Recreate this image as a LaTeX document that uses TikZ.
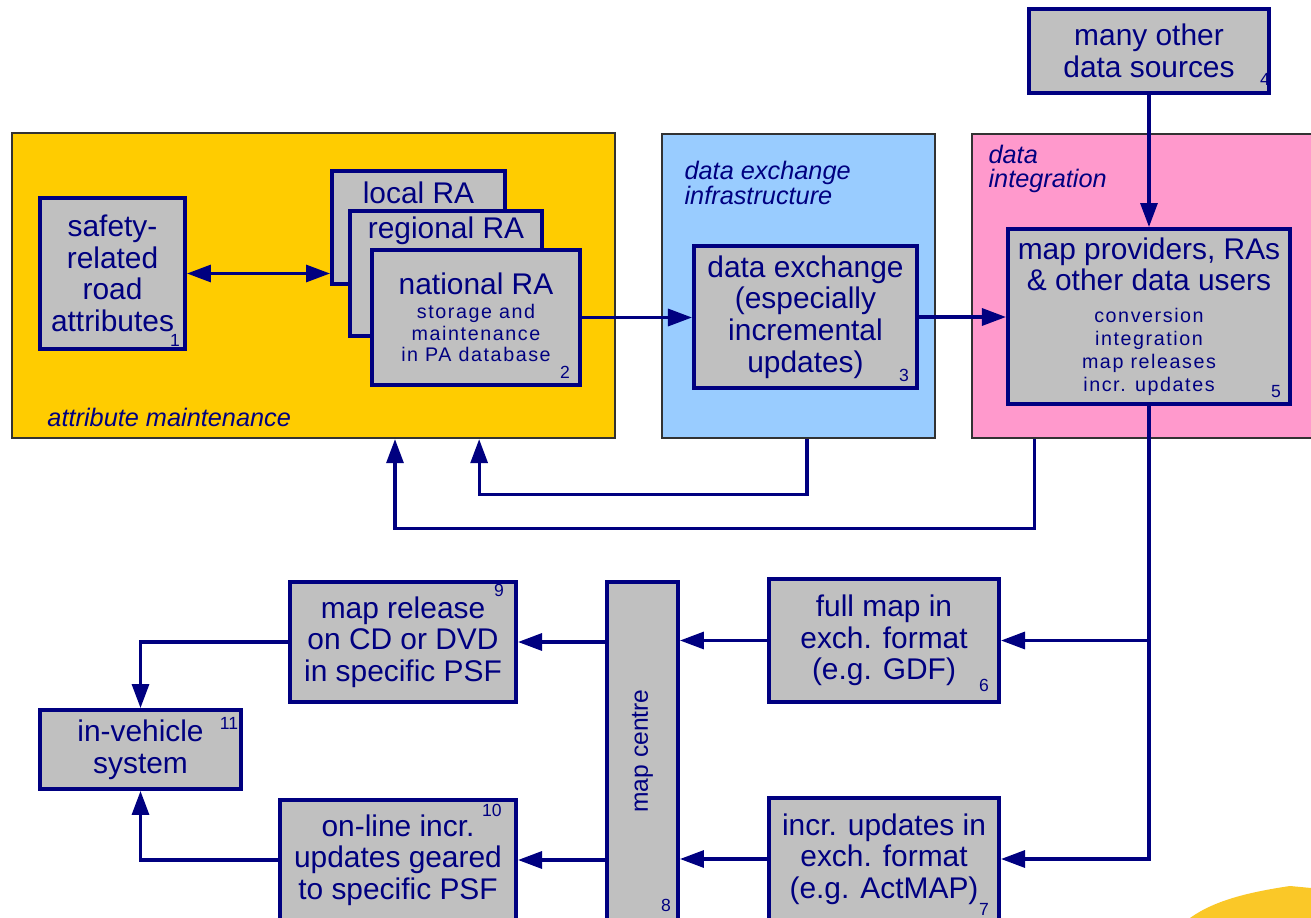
\documentclass[tikz,border=0pt]{standalone}
\usepackage{fontspec}
\setmainfont{Liberation Sans}
\newfontfamily\spacedfont[LetterSpace=8]{Liberation Sans}
\usetikzlibrary{arrows.meta,positioning}
\definecolor{navyline}{RGB}{0,0,128}
\definecolor{boxgrey}{RGB}{192,192,192}
\definecolor{attryellow}{RGB}{255,204,0}
\definecolor{exchblue}{RGB}{153,204,255}
\definecolor{integpink}{RGB}{255,153,204}
\definecolor{panelrim}{RGB}{50,50,50}
\definecolor{blobyellow}{RGB}{250,200,40}
\newcommand{\finetext}[1]{{\spacedfont\fontsize{5.6}{6.3}\selectfont #1}}

\begin{document}
\begin{tikzpicture}[x=0.01cm, y=-0.01cm,
    every node/.style={font=\fontsize{8.5}{9}\selectfont, text=navyline},
    panel/.style={draw=panelrim, line width=0.6pt, inner sep=0pt},
    box/.style={draw=navyline, fill=boxgrey, line width=1.1pt, align=center, inner sep=0pt},
    tag/.style={font=\fontsize{7.2}{7}\selectfont\itshape, align=left, anchor=west, inner sep=0pt},
    num/.style={font=\fontsize{5}{5}\selectfont, inner sep=0pt},
    link/.style={draw=navyline, line width=0.9pt, -{Triangle[length=0.24cm, width=0.17cm]}},
    twoway/.style={link, {Triangle[length=0.24cm, width=0.17cm]}-{Triangle[length=0.24cm, width=0.17cm]}}]
  \fill[white] (0,0) rectangle (1311,918);
  \useasboundingbox (0,0) rectangle (1311,918);

  % the three coloured areas
  \node[panel, fill=attryellow, minimum width=6.03cm, minimum height=3.05cm] (pAttr) at (313.5,285.5) {};
  \node[panel, fill=exchblue, minimum width=2.73cm, minimum height=3.04cm] (pExch) at (798.5,286) {};
  \node[panel, fill=integpink, minimum width=3.58cm, minimum height=3.04cm] (pInteg) at (1151,286) {};
  \node[tag] (tAttr) at ([xshift=0.36cm, yshift=0.22cm]pAttr.south west) {attribute maintenance};
  \node[tag] (tExch) at ([xshift=0.23cm, yshift=-0.5cm]pExch.north west) {data exchange\\infrastructure};
  \node[tag] (tInteg) at ([xshift=0.17cm, yshift=-0.36cm]pInteg.north west) {data\\integration};

  % feedback to attribute maintenance
  \draw[link] ([xshift=0.085cm]pExch.south) -- ++(0,55) -| ([xshift=-1.37cm]pAttr.south east);
  \draw[link] ([xshift=0.64cm]pInteg.south west) -- ++(0,89) -| ([xshift=3.84cm]pAttr.south west);

  % upper row
  \node[box, minimum width=1.45cm, minimum height=1.51cm] (b1) at (112.5,273.5) {safety-\\related\\road\\attributes};
  \node[box, minimum width=1.73cm, minimum height=1.13cm] (bLocal) at (418.5,227.5) {};
  \node (tLocal) at ([yshift=-0.24cm]bLocal.north) {local RA};
  \node[box, minimum width=1.92cm, minimum height=1.25cm] (bRegional) at (446,273.5) {};
  \node (tRegional) at ([yshift=-0.22cm]bRegional.north) {regional RA};
  \node[box, minimum width=2.08cm, minimum height=1.35cm] (bNational) at (476,317.5)
    {national RA\\[-2.2pt] \finetext{storage and}\\[-2.8pt] \finetext{maintenance}\\[-2.8pt] \finetext{in PA database}};
  \node[box, minimum width=2.23cm, minimum height=1.42cm] (b3) at (805.5,317) {data exchange\\(especially\\incremental\\updates)};
  \node[box, minimum width=2.40cm, minimum height=0.84cm] (b4) at (1149,51) {many other\\data sources};
  \node[box, minimum width=2.82cm, minimum height=1.75cm] (b5) at (1149,316.5)
    {map providers, RAs\\\& other data users\\ \finetext{conversion}\\[-2.5pt] \finetext{integration}\\[-2.5pt] \finetext{map releases}\\[-2.5pt] \finetext{incr. updates}};

  % lower part
  \node[box, minimum width=2.30cm, minimum height=1.23cm] (b6) at (884,640.5) {full map in\\exch. format\\(e.g. GDF)};
  \node[box, minimum width=2.30cm, minimum height=1.22cm] (b7) at (884,859) {incr. updates in\\exch. format\\(e.g. ActMAP)};
  \node[box, minimum width=0.71cm, minimum height=3.38cm] (bMap) at (642.5,751) {};
  \node[rotate=90, font=\fontsize{7}{7}\selectfont] (tMap) at (bMap) {map centre};
  \node[box, minimum width=2.26cm, minimum height=1.20cm] (b9) at (403,642) {map release\\on CD or DVD\\in specific PSF};
  \node[box, minimum width=2.36cm, minimum height=1.20cm] (b10) at (398,860) {on-line incr.\\updates geared\\to specific PSF};
  \node[box, minimum width=2.01cm, minimum height=0.79cm] (b11) at (140.5,749.5) {in-vehicle\\system};

  % box numbers
  \node[num] (n1) at ([xshift=-0.12cm, yshift=0.11cm]b1.south east) {1};
  \node[num] (n2) at ([xshift=-0.17cm, yshift=0.15cm]bNational.south east) {2};
  \node[num] (n3) at ([xshift=-0.15cm, yshift=0.15cm]b3.south east) {3};
  \node[num] (n4) at ([xshift=-0.06cm, yshift=0.15cm]b4.south east) {4};
  \node[num] (n5) at ([xshift=-0.16cm, yshift=0.14cm]b5.south east) {5};
  \node[num] (n6) at ([xshift=-0.17cm, yshift=0.19cm]b6.south east) {6};
  \node[num] (n7) at ([xshift=-0.17cm, yshift=0.13cm]b7.south east) {7};
  \node[num] (n8) at ([xshift=-0.14cm, yshift=0.17cm]bMap.south east) {8};
  \node[num] (n9) at ([xshift=-0.19cm, yshift=-0.10cm]b9.north east) {9};
  \node[num] (n10) at ([xshift=-0.26cm, yshift=-0.12cm]b10.north east) {10};
  \node[num] (n11) at ([xshift=-0.14cm, yshift=-0.15cm]b11.north east) {11};

  % connectors
  \draw[twoway] (b1.east) -- (b1.east -| bLocal.west);
  \draw[link] (bNational.east) -- (bNational.east -| b3.west);
  \draw[link] (b3.east) -- (b3.east -| b5.west);
  \draw[link] (b4) -- (b5);
  \draw[link] (b5.south) |- (b6.east);
  \draw[link] (b5.south) |- (b7.east);
  \draw[link] (b6.west) -- (b6.west -| bMap.east);
  \draw[link] (b7.west) -- (b7.west -| bMap.east);
  \draw[link] (bMap.west |- b9) -- (b9.east);
  \draw[link] (bMap.west |- b10) -- (b10.east);
  \draw[link] (b9.west) -| (b11.north);
  \draw[link] (b10.west) -| (b11.south);

  % corner of the logo
  \fill[blobyellow] (1190,918) .. controls (1215,900) and (1250,892) .. (1290,886) -- (1311,888) -- (1311,918) -- cycle;
\end{tikzpicture}
\end{document}
